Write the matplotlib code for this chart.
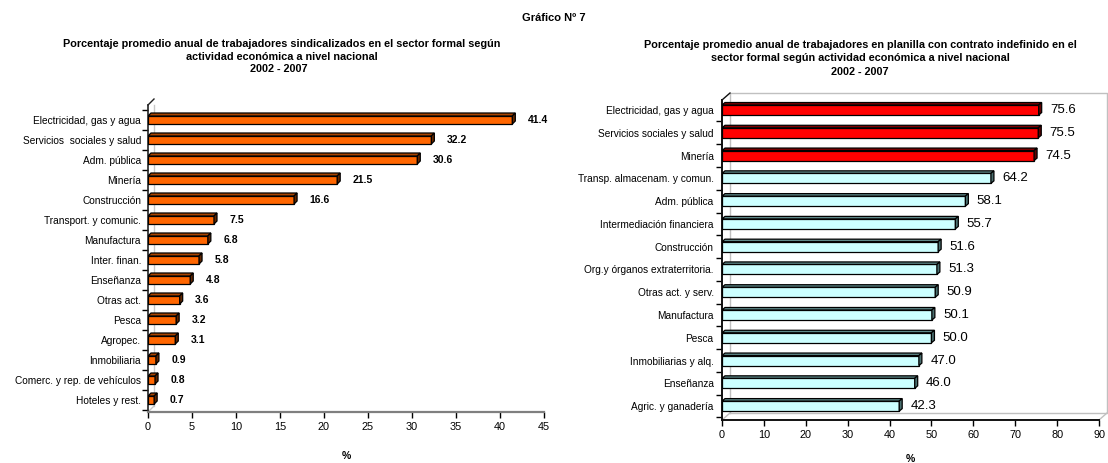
import matplotlib
matplotlib.use("Agg")
import matplotlib.pyplot as plt
from matplotlib.patches import Polygon
from matplotlib.ticker import FixedLocator

plt.rcParams["font.family"] = ["Liberation Sans", "DejaVu Sans"]

# Sindicalizados por actividad (%)
sind_cats = [
    "Electricidad, gas y agua", "Servicios  sociales y salud", "Adm. pública",
    "Minería", "Construcción", "Transport. y comunic.", "Manufactura",
    "Inter. finan.", "Enseñanza", "Otras act.", "Pesca", "Agropec.",
    "Inmobiliaria", "Comerc. y rep. de vehículos", "Hoteles y rest.",
]
sind_vals = [41.4, 32.2, 30.6, 21.5, 16.6, 7.5, 6.8, 5.8, 4.8, 3.6, 3.2, 3.1, 0.9, 0.8, 0.7]
sind_ticks = [0, 5, 10, 15, 20, 25, 30, 35, 40, 45]

# Contrato indefinido por actividad (%)
cont_cats = [
    "Electricidad, gas y agua", "Servicios sociales y salud", "Minería",
    "Transp. almacenam. y comun.", "Adm. pública", "Intermediación financiera",
    "Construcción", "Org.y órganos extraterritoria.", "Otras act. y serv.",
    "Manufactura", "Pesca", "Inmobiliarias y alq.", "Enseñanza",
    "Agric. y ganadería",
]
cont_vals = [75.6, 75.5, 74.5, 64.2, 58.1, 55.7, 51.6, 51.3, 50.9, 50.1, 50.0, 47.0, 46.0, 42.3]
cont_ticks = [0, 10, 20, 30, 40, 50, 60, 70, 80, 90]
cont_top_n = 3  # actividades destacadas en rojo

W, H = 1108, 463
fig = plt.figure(figsize=(W / 100, H / 100), dpi=100)


def px_axes(x0, x1, ytop, ybot):
    return fig.add_axes([x0 / W, 1 - ybot / H, (x1 - x0) / W, (ybot - ytop) / H])


def bars3d(ax, vals, xmax, h, dxp, dyp, front, top, side, lw=0.9):
    bb = ax.get_window_extent()
    ylo, yhi = ax.get_ylim()
    xpu = bb.width / xmax
    ypu = bb.height / abs(ylo - yhi)
    dx = dxp / xpu
    dy = dyp / ypu
    for i, v in enumerate(vals):
        fc, tc, sc = front[i], top[i], side[i]
        ax.barh(i, v, height=h, color=fc, edgecolor="black", linewidth=lw, zorder=3)
        yt, yb = i - h / 2, i + h / 2
        ax.add_patch(Polygon([(0, yt), (v, yt), (v + dx, yt - dy), (dx, yt - dy)],
                             closed=True, fc=tc, ec="black", lw=lw, zorder=3))
        ax.add_patch(Polygon([(v, yt), (v + dx, yt - dy), (v + dx, yb - dy), (v, yb)],
                             closed=True, fc=sc, ec="black", lw=lw, zorder=3))
    return dx


def style_axes(ax, cats, ticks, xmax, ylim, label_pad):
    n = len(cats)
    ax.set_xlim(0, xmax)
    ax.set_ylim(*ylim)
    ax.set_xticks(ticks)
    ax.set_xticklabels([str(t) for t in ticks], fontsize=7.8)
    ax.set_yticks(range(n))
    ax.set_yticklabels(cats, fontsize=7.3)
    ax.tick_params(axis="y", which="major", length=0, pad=label_pad)
    ax.yaxis.set_minor_locator(FixedLocator([i - 0.5 for i in range(n + 1)]))
    ax.tick_params(axis="y", which="minor", length=4.5, width=1.0, direction="out")
    ax.tick_params(axis="x", length=4, width=1.0, direction="out", pad=3)
    for s in ("top", "right"):
        ax.spines[s].set_visible(False)
    ax.spines["left"].set_linewidth(1.2)
    ax.spines["bottom"].set_linewidth(1.6)


# ---------- panel izquierdo ----------
axl = px_axes(148, 544, 105, 412)
nl = len(sind_vals)
style_axes(axl, sind_cats, sind_ticks, 45, (nl - 1 + 0.6, -0.75), 5)
axl.spines["bottom"].set_color("#7f7f7f")
axl.tick_params(axis="x", colors="black")
axl.spines["left"].set_color("#222222")

orange = ["#FF6600"] * nl
orange_top = ["#A84300"] * nl
orange_side = ["#632700"] * nl
dxl = bars3d(axl, sind_vals, 45, 0.4, 3, 3, orange, orange_top, orange_side)
for i, v in enumerate(sind_vals):
    axl.annotate(f"{v:.1f}", (v + dxl, i), xytext=(9, 0), textcoords="offset points",
                 ha="left", va="center", fontsize=7.5, fontweight="bold", zorder=5)

# pared posterior (solo borde izquierdo y suelo)
wdx, wdy = 6 / 396, 6 / 307
axl.plot([wdx, wdx], [wdy, 1], transform=axl.transAxes, color="#c8c8c8", lw=1.0,
         clip_on=False, zorder=1)
axl.plot([0, wdx], [0, wdy], transform=axl.transAxes, color="#c8c8c8", lw=1.0,
         clip_on=False, zorder=1)
axl.plot([0, wdx], [1, 1 + wdy], transform=axl.transAxes, color="#222222", lw=1.0,
         clip_on=False, zorder=1)
axl.set_xlabel("%", fontsize=7.5, fontweight="bold", labelpad=14)

# ---------- panel derecho ----------
axr = px_axes(722, 1099, 100, 420)
nr = len(cont_vals)
style_axes(axr, cont_cats, cont_ticks, 90, (nr - 1 + 0.61, -0.44), 6)
for s in ("left", "bottom"):
    axr.spines[s].set_color("#111111")
    axr.spines[s].set_linewidth(1.4)

front_r = ["#FF0000" if i < cont_top_n else "#CCFFFF" for i in range(nr)]
top_r = ["#800000" if i < cont_top_n else "#5F8A8A" for i in range(nr)]
side_r = ["#600000" if i < cont_top_n else "#4A6F6F" for i in range(nr)]
dxr = bars3d(axr, cont_vals, 90, 0.44, 3, 2.5, front_r, top_r, side_r)
for i, v in enumerate(cont_vals):
    axr.annotate(f"{v:.1f}", (v + dxr, i), xytext=(6, 0), textcoords="offset points",
                 ha="left", va="center", fontsize=9.5, zorder=5)

# pared posterior en perspectiva
rdx, rdy = 8 / 377, 7 / 320
wall = "#c0c0c0"
axr.plot([rdx, rdx, 1 + rdx, 1 + rdx, rdx], [rdy, 1 + rdy, 1 + rdy, rdy, rdy],
         transform=axr.transAxes, color=wall, lw=1.0, clip_on=False, zorder=1)
axr.plot([0, rdx], [0, rdy], transform=axr.transAxes, color=wall, lw=1.0,
         clip_on=False, zorder=1)
axr.plot([1, 1 + rdx], [0, rdy], transform=axr.transAxes, color=wall, lw=1.0,
         clip_on=False, zorder=1)
axr.plot([0, rdx], [1, 1 + rdy], transform=axr.transAxes, color="#111111", lw=1.0,
         clip_on=False, zorder=1)
axr.set_xlabel("%", fontsize=7.5, fontweight="bold", labelpad=10)

# ---------- títulos ----------
tsize = 7.8
fig.text(554 / W, 1 - 18 / H, "Gráfico Nº 7", ha="center", va="center",
         fontsize=8, fontweight="bold")
fig.text(282 / W, 1 - 50.5 / H,
         "Porcentaje promedio anual de trabajadores sindicalizados en el sector formal según\n"
         "actividad económica a nivel nacional",
         ha="center", va="center", fontsize=tsize, fontweight="bold", linespacing=1.3)
fig.text(279 / W, 1 - 69 / H, "2002 - 2007", ha="center", va="center",
         fontsize=tsize, fontweight="bold")
fig.text(860 / W, 1 - 51.5 / H,
         "Porcentaje promedio anual de trabajadores en planilla con contrato indefinido en el\n"
         "sector formal según actividad económica a nivel nacional",
         ha="center", va="center", fontsize=tsize, fontweight="bold", linespacing=1.4)
fig.text(860 / W, 1 - 72 / H, "2002 - 2007", ha="center", va="center",
         fontsize=tsize, fontweight="bold")

fig.savefig("out.png", dpi=100)
